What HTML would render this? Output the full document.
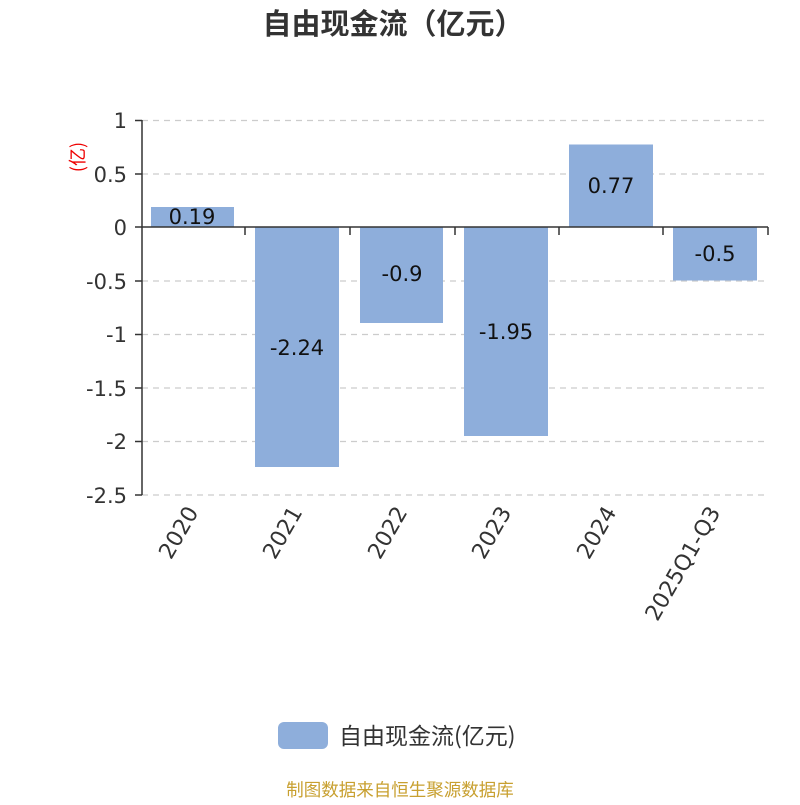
<!DOCTYPE html>
<html><head><meta charset="utf-8"><style>
body{margin:0;background:#fff;}
text{font-family:"DejaVu Sans","Liberation Sans","Noto Sans CJK SC",sans-serif;}
.cjk{font-family:"Noto Sans CJK SC","Liberation Sans",sans-serif;}
</style></head><body>
<svg width="800" height="800" viewBox="0 0 800 800" xmlns="http://www.w3.org/2000/svg">
<rect width="800" height="800" fill="#fff"/>
<text class="cjk" x="393" y="34" font-size="29" font-weight="bold" fill="#333" text-anchor="middle">自由现金流（亿元）</text>
<g stroke="#ccc" stroke-width="1.3" stroke-dasharray="6,5">
<line x1="142" y1="120.5" x2="768" y2="120.5"/>
<line x1="142" y1="174" x2="768" y2="174"/>
<line x1="142" y1="281" x2="768" y2="281"/>
<line x1="142" y1="334.5" x2="768" y2="334.5"/>
<line x1="142" y1="388" x2="768" y2="388"/>
<line x1="142" y1="441.5" x2="768" y2="441.5"/>
<line x1="142" y1="495" x2="768" y2="495"/>
</g>
<g fill="#8eaedb">
<rect x="151" y="207" width="83" height="20"/>
<rect x="255" y="227" width="84" height="240"/>
<rect x="360" y="227" width="83" height="96"/>
<rect x="464" y="227" width="84" height="209"/>
<rect x="569" y="144.5" width="84" height="82.5"/>
<rect x="673" y="227" width="84" height="53.5"/>
</g>
<g stroke="#333" stroke-width="1.5">
<line x1="142" y1="120" x2="142" y2="495"/>
<line x1="135" y1="120.5" x2="142" y2="120.5"/>
<line x1="135" y1="174" x2="142" y2="174"/>
<line x1="135" y1="227" x2="142" y2="227"/>
<line x1="135" y1="281" x2="142" y2="281"/>
<line x1="135" y1="334.5" x2="142" y2="334.5"/>
<line x1="135" y1="388" x2="142" y2="388"/>
<line x1="135" y1="441.5" x2="142" y2="441.5"/>
<line x1="135" y1="495" x2="142" y2="495"/>
<line x1="142" y1="227" x2="768" y2="227"/>
<line x1="245" y1="227" x2="245" y2="235"/>
<line x1="350" y1="227" x2="350" y2="235"/>
<line x1="455" y1="227" x2="455" y2="235"/>
<line x1="559" y1="227" x2="559" y2="235"/>
<line x1="663" y1="227" x2="663" y2="235"/>
<line x1="768" y1="227" x2="768" y2="235"/>
</g>
<g font-size="21" fill="#333" text-anchor="end">
<text x="127" y="128">1</text>
<text x="127" y="182">0.5</text>
<text x="127" y="235">0</text>
<text x="127" y="289">-0.5</text>
<text x="127" y="342">-1</text>
<text x="127" y="396">-1.5</text>
<text x="127" y="449">-2</text>
<text x="127" y="503">-2.5</text>
</g>
<text class="cjk" transform="translate(84,157) rotate(-90)" font-size="18" fill="#e00" text-anchor="middle">(亿)</text>
<g font-size="21" fill="#111" text-anchor="middle">
<text x="192" y="224">0.19</text>
<text x="297" y="355">-2.24</text>
<text x="402" y="281">-0.9</text>
<text x="506" y="339">-1.95</text>
<text x="611" y="193">0.77</text>
<text x="715" y="261">-0.5</text>
</g>
<g font-size="22" fill="#333" text-anchor="end">
<text transform="translate(199,512) rotate(-60)">2020</text>
<text transform="translate(303,512) rotate(-60)">2021</text>
<text transform="translate(408,512) rotate(-60)">2022</text>
<text transform="translate(512,512) rotate(-60)">2023</text>
<text transform="translate(617,512) rotate(-60)">2024</text>
<text transform="translate(721,512) rotate(-60)">2025Q1-Q3</text>
</g>
<rect x="278" y="722" width="50" height="27" rx="6" fill="#8eaedb"/>
<text class="cjk" x="339" y="744" font-size="23" fill="#333">自由现金流(亿元)</text>
<text class="cjk" x="400" y="796" font-size="17.5" fill="#c8a030" text-anchor="middle">制图数据来自恒生聚源数据库</text>
</svg>
</body></html>
